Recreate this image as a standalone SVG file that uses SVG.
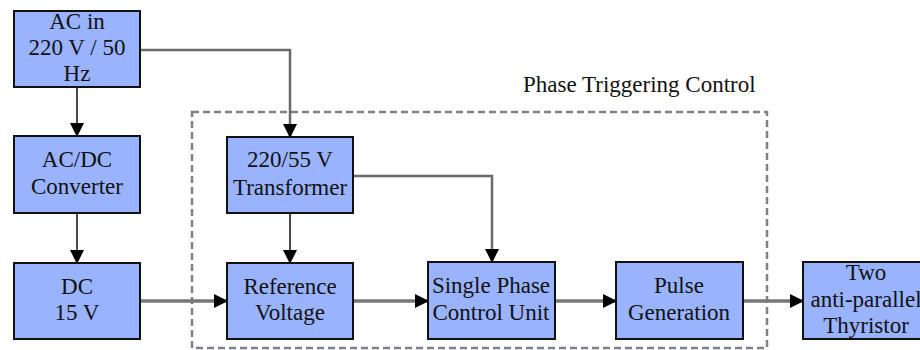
<svg xmlns="http://www.w3.org/2000/svg" width="920" height="350" viewBox="0 0 920 350">
<defs>
<marker id="ar" markerWidth="14" markerHeight="14" refX="13" refY="7" orient="auto" markerUnits="userSpaceOnUse">
<path d="M0,0 L14,7 L0,14 Z" fill="#000"/>
</marker>
</defs>
<rect x="192" y="112" width="575" height="236" fill="none" stroke="#80808a" stroke-width="2.5" stroke-dasharray="7,4"/>
<text x="523" y="92" font-family="Liberation Serif" font-size="23" fill="#111">Phase Triggering Control</text>
<g id="connectors" fill="none">
<path stroke="#4a4a4a" stroke-width="2" d="M77,87 V136" marker-end="url(#ar)"/>
<path stroke="#4a4a4a" stroke-width="2" d="M77,213 V263" marker-end="url(#ar)"/>
<path stroke="#6a6a6a" stroke-width="2.5" d="M140,50 H290 V137" marker-end="url(#ar)"/>
<path stroke="#4a4a4a" stroke-width="2" d="M290,213 V263" marker-end="url(#ar)"/>
<path stroke="#6a6a6a" stroke-width="2.5" d="M353,176 H492 V262" marker-end="url(#ar)"/>
<path stroke="#777" stroke-width="3.5" d="M140,301 H227" marker-end="url(#ar)"/>
<path stroke="#777" stroke-width="3.5" d="M353,301 H428" marker-end="url(#ar)"/>
<path stroke="#777" stroke-width="3.5" d="M555,301 H616" marker-end="url(#ar)"/>
<path stroke="#777" stroke-width="3.5" d="M743,301 H803" marker-end="url(#ar)"/>
</g>
<g id="ac-in">
<rect fill="#99b3ff" stroke="#111" stroke-width="2" x="14" y="11" width="126" height="76"/>
<text x="77" y="29" font-family="Liberation Serif" font-size="23" fill="#111" text-anchor="middle">AC in</text>
<text x="77" y="55" font-family="Liberation Serif" font-size="23" fill="#111" text-anchor="middle">220 V / 50</text>
<text x="77" y="81" font-family="Liberation Serif" font-size="23" fill="#111" text-anchor="middle">Hz</text>
</g>
<g id="acdc">
<rect fill="#99b3ff" stroke="#111" stroke-width="2" x="14" y="136" width="126" height="77"/>
<text x="77" y="167" font-family="Liberation Serif" font-size="23" fill="#111" text-anchor="middle">AC/DC</text>
<text x="77" y="194" font-family="Liberation Serif" font-size="23" fill="#111" text-anchor="middle">Converter</text>
</g>
<g id="dc">
<rect fill="#99b3ff" stroke="#111" stroke-width="2" x="14" y="263" width="126" height="76"/>
<text x="77" y="294" font-family="Liberation Serif" font-size="23" fill="#111" text-anchor="middle">DC</text>
<text x="77" y="320" font-family="Liberation Serif" font-size="23" fill="#111" text-anchor="middle">15 V</text>
</g>
<g id="transformer">
<rect fill="#99b3ff" stroke="#111" stroke-width="2" x="227" y="137" width="126" height="76"/>
<text x="290" y="167" font-family="Liberation Serif" font-size="23" fill="#111" text-anchor="middle">220/55 V</text>
<text x="290" y="195" font-family="Liberation Serif" font-size="23" fill="#111" text-anchor="middle">Transformer</text>
</g>
<g id="reference">
<rect fill="#99b3ff" stroke="#111" stroke-width="2" x="227" y="263" width="126" height="76"/>
<text x="290" y="294" font-family="Liberation Serif" font-size="23" fill="#111" text-anchor="middle">Reference</text>
<text x="290" y="320" font-family="Liberation Serif" font-size="23" fill="#111" text-anchor="middle">Voltage</text>
</g>
<g id="single-phase">
<rect fill="#99b3ff" stroke="#111" stroke-width="2" x="428" y="262" width="127" height="77"/>
<text x="491" y="293" font-family="Liberation Serif" font-size="23" fill="#111" text-anchor="middle">Single Phase</text>
<text x="491" y="320" font-family="Liberation Serif" font-size="23" fill="#111" text-anchor="middle">Control Unit</text>
</g>
<g id="pulse">
<rect fill="#99b3ff" stroke="#111" stroke-width="2" x="616" y="262" width="127" height="77"/>
<text x="679" y="293" font-family="Liberation Serif" font-size="23" fill="#111" text-anchor="middle">Pulse</text>
<text x="679" y="320" font-family="Liberation Serif" font-size="23" fill="#111" text-anchor="middle">Generation</text>
</g>
<g id="thyristor">
<rect fill="#99b3ff" stroke="#111" stroke-width="2" x="803" y="262" width="127" height="77"/>
<text x="866" y="280" font-family="Liberation Serif" font-size="23" fill="#111" text-anchor="middle">Two</text>
<text x="866" y="307" font-family="Liberation Serif" font-size="23" fill="#111" text-anchor="middle">anti-parallel</text>
<text x="866" y="333" font-family="Liberation Serif" font-size="23" fill="#111" text-anchor="middle">Thyristor</text>
</g>
</svg>
